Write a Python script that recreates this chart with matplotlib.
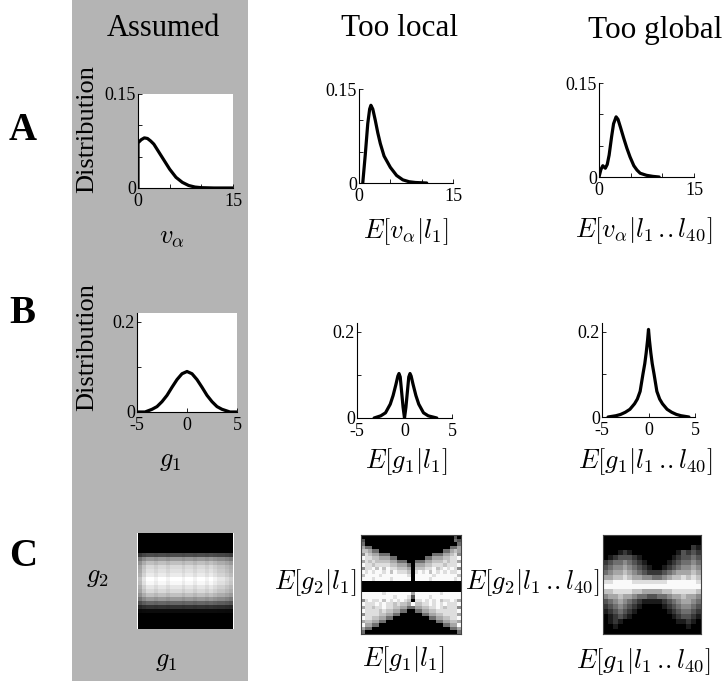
import numpy as np
import matplotlib
matplotlib.use('Agg')
import matplotlib.pyplot as plt
from matplotlib.patches import Rectangle

plt.rcParams['font.family'] = ['Liberation Serif', 'DejaVu Serif']
plt.rcParams['mathtext.fontset'] = 'cm'

# --- datos ---
# fila A: distribucion de v_alpha
va_supuesto_x = [0, 0, 0.5, 1, 1.5, 2, 2.5, 3, 4, 5, 6, 7, 8, 9, 10, 12, 15]
va_supuesto_y = [0, 0.072, 0.077, 0.080, 0.079, 0.075, 0.070, 0.062, 0.046, 0.030, 0.017,
                 0.009, 0.004, 0.0015, 0.0005, 0, 0]
va_local_x = [0.6, 1.0, 1.4, 1.7, 1.9, 2.2, 2.6, 3.0, 3.4, 4.0, 5.0, 6.0, 7.0, 8.0, 9.0, 10.8]
va_local_y = [0, 0.045, 0.095, 0.118, 0.124, 0.118, 0.100, 0.080, 0.063, 0.043, 0.025,
              0.012, 0.005, 0.002, 0.0008, 0]
va_global_x = [0, 0.3, 0.6, 1.0, 1.3, 1.6, 2.0, 2.3, 2.7, 3.0, 3.4, 3.9, 4.4, 4.9, 5.5,
               6.0, 6.5, 7.5, 8.5, 9.5]
va_global_y = [0, 0.012, 0.018, 0.014, 0.020, 0.035, 0.065, 0.085, 0.096, 0.092, 0.079,
               0.062, 0.046, 0.032, 0.018, 0.011, 0.006, 0.0027, 0.001, 0]

# fila B: distribucion de g1
g_supuesto_x = [-5, -4.2, -3.5, -3, -2.5, -2, -1.5, -1, -0.5, 0, 0.5, 1, 1.5, 2, 2.5, 3, 3.5, 4.3, 5]
g_supuesto_y = [0, 0, 0.006, 0.012, 0.023, 0.037, 0.055, 0.072, 0.085, 0.090, 0.085, 0.072,
                0.055, 0.037, 0.023, 0.012, 0.006, 0, 0]
g_local_x = [-3.2, -2.5, -2, -1.5, -1.2, -0.9, -0.7, -0.58, -0.45, -0.3, -0.15, 0,
             0.15, 0.3, 0.45, 0.58, 0.7, 0.9, 1.2, 1.5, 2, 2.5, 3.4]
g_local_y = [0, 0.005, 0.012, 0.032, 0.052, 0.078, 0.097, 0.103, 0.095, 0.060, 0.025, 0,
             0.025, 0.060, 0.095, 0.103, 0.097, 0.078, 0.052, 0.032, 0.012, 0.005, 0]
g_global_x = [-4.35, -3.5, -3, -2.5, -2, -1.5, -1.2, -0.9, -0.6, -0.4, -0.25, -0.1, 0,
              0.1, 0.25, 0.4, 0.6, 0.9, 1.2, 1.5, 2, 2.5, 3, 3.5, 4.35]
g_global_y = [0, 0.003, 0.006, 0.011, 0.018, 0.031, 0.042, 0.060, 0.100, 0.125, 0.150, 0.180,
              0.205, 0.180, 0.150, 0.125, 0.100, 0.060, 0.042, 0.031, 0.018, 0.011, 0.006,
              0.003, 0]

# fila C: histogramas conjuntos (g1, g2)
supuesto_filas = [0, 0, 0, 0, 0, 0.3, 0.6, 0.75, 0.85, 0.88, 0.92, 1.0, 0.97, 0.9, 0.85,
                  0.75, 0.6, 0.4, 0.2, 0.05, 0, 0, 0, 0]
supuesto_cols = [0.75, 0.9, 1, 1, 0.95, 1, 1, 0.95, 1, 1, 1, 0.95, 1, 1, 0.95, 1, 1, 0.95,
                 1, 0.95, 0.9, 0.9, 0.85, 0.8]

# niveles 0-9, mitad izquierda y derecha de cada fila
local_izq = ["00000000000000", "30000000000000", "40000000000000", "64400000000000",
             "77644000000000", "58766444000000", "98877666440000", "68787777664440",
             "98878888776664", "58897979887776", "98989989798887", "79999899999998",
             "99989999899999", "00000000000000", "00000000000000", "00000000000000",
             "99999989999999", "99999999989998", "58988979898987", "98889898878776",
             "68878898877664", "98888787766440", "58888776644000", "98877664400000",
             "67766440000000", "96644000000000", "64400000000000", "40000000000000"]
local_der = ["00000000000030", "00000000000043", "00000000000004", "00000000000446",
             "00000000044676", "00000044466785", "00004466677889", "04446677787886",
             "06667788878889", "07778897898985", "08989798989889", "09999989999997",
             "09999899999989", "00000000000000", "00000000000000", "00000000000000",
             "69999999899999", "39999899999999", "08898989788986", "97788989898889",
             "46677889878885", "04466778888889", "00044667788886", "00000446677889",
             "00000004466776", "00000000044669", "00000000000446", "00000000000004"]

global_filas = ["00000000000000000000", "00000000000000000000", "00000000000000000021",
                "00012100000000013232", "01233321000000123343", "23445432100001234454",
                "34556543210012345565", "45667654322234566676", "66778766554456778787",
                "88999988888889999998", "99999999999999999999", "77888877666677888887",
                "56676654433445667665", "34565432111123456654", "23454321000012345543",
                "12343210000001234432", "01232100000000123321", "01210000000000011210",
                "00100000000000000100", "00000000000000000000"]

W, H = 726, 681
fig = plt.figure(figsize=(W / 100, H / 100), dpi=100)


def caja(l, t, r, b):
    return fig.add_axes([l / W, 1 - b / H, (r - l) / W, (b - t) / H])


def texto(x, y, s, **kw):
    fig.text(x / W, 1 - y / H, s, **kw)


# fondo gris de la columna "Assumed"
fig.add_artist(Rectangle((72 / W, 0), (248 - 72) / W, 1, transform=fig.transFigure,
                         facecolor='#b4b4b4', edgecolor='none', zorder=0))


def curva(ax, x, y, xlim, ylim, xt, xl, yt, yl, blanco=False):
    ax.plot(x, y, color='black', lw=2.3, solid_capstyle='round')
    ax.set_xlim(xlim)
    ax.set_ylim(ylim)
    ax.set_xticks(xt)
    ax.set_xticklabels(xl)
    ax.set_yticks(yt)
    ax.set_yticklabels(yl)
    ax.spines['top'].set_visible(False)
    ax.spines['right'].set_visible(False)
    for s in ['left', 'bottom']:
        ax.spines[s].set_linewidth(0.8)
    ax.tick_params(direction='in', length=3, width=0.6, labelsize=13)
    ax.tick_params(axis='x', pad=3.5)
    ax.tick_params(axis='y', pad=1.5)
    if blanco:
        ax.set_facecolor('white')
    else:
        ax.patch.set_alpha(0)


xa = [0, 5, 10, 15]
xal = ['0', '', '', '15']
ya = [0, 0.05, 0.1, 0.15]
yal = ['0', '', '', '0.15']
curva(caja(138, 94, 233, 188), va_supuesto_x, va_supuesto_y, (0, 15), (0, 0.15), xa, xal, ya, yal, True)
curva(caja(359, 89, 453, 183), va_local_x, va_local_y, (0, 15), (0, 0.15), xa, xal, ya, yal)
curva(caja(599, 83, 694, 177), va_global_x, va_global_y, (0, 15), (0, 0.15), xa, xal, ya, yal)

xb = [-5, 0, 5]
xbl = ['-5', '0', '5']
yb = [0, 0.1, 0.2]
ybl = ['0', '', '0.2']
curva(caja(137, 313, 237, 412), g_supuesto_x, g_supuesto_y, (-5, 5), (0, 0.22), xb, xbl, yb, ybl, True)
curva(caja(357, 323, 452, 418), g_local_x, g_local_y, (-5, 5), (0, 0.22), xb, xbl, yb, ybl)
curva(caja(602, 323, 695, 417), g_global_x, g_global_y, (-5, 5), (0, 0.22), xb, xbl, yb, ybl)

# imagenes de la fila C
img_sup = np.outer(supuesto_filas, supuesto_cols)
img_loc = np.array([[int(c) for c in a + b] for a, b in zip(local_izq, local_der)])
img_glo = np.array([[int(c) for c in f] for f in global_filas])

ax = caja(137, 533, 234, 629)
ax.set_facecolor('white')
n = len(supuesto_cols)
ax.imshow(img_sup, cmap='gray', vmin=0, vmax=1, interpolation='nearest', aspect='auto',
          extent=(0, n, len(supuesto_filas), 0))
ax.set_xlim(-0.35, n + 0.35)
ax.set_xticks([])
ax.set_yticks([])
for s in ax.spines.values():
    s.set_visible(False)

for (l, t, r, b), img in [((361, 535, 461, 634), img_loc), ((603, 535, 701, 634), img_glo)]:
    ax = caja(l, t, r, b)
    ax.imshow(img, cmap='gray', vmin=0, vmax=9.2, interpolation='nearest', aspect='auto')
    ax.set_xticks([])
    ax.set_yticks([])
    for s in ax.spines.values():
        s.set_linewidth(0.8)
        s.set_color('#444444')

# titulos de columna
texto(163, 28, 'Assumed', fontsize=22, ha='center', va='center')
texto(400, 28, 'Too local', fontsize=22.5, ha='center', va='center')
texto(655, 30, 'Too global', fontsize=22.5, ha='center', va='center')

# letras de panel
texto(9, 140, 'A', fontsize=28, fontweight='bold', ha='left', va='baseline')
texto(9, 323, 'B', fontsize=28, fontweight='bold', ha='left', va='baseline')
texto(9, 566, 'C', fontsize=28, fontweight='bold', ha='left', va='baseline')

# etiquetas de ejes
texto(87, 129, 'Distribution', fontsize=19, rotation=90, ha='center', va='center')
texto(87, 347, 'Distribution', fontsize=19, rotation=90, ha='center', va='center')

puntos = r'\,.\!.'
texto(172, 238, r'$v_\alpha$', fontsize=19, ha='center', va='center')
texto(406, 232, r'$E[v_\alpha|l_1]$', fontsize=19, ha='center', va='center')
texto(644, 231, r'$E[v_\alpha|l_1' + puntos + r'l_{40}]$', fontsize=19, ha='center', va='center')

texto(170, 462, r'$g_1$', fontsize=19, ha='center', va='center')
texto(406, 462, r'$E[g_1|l_1]$', fontsize=19, ha='center', va='center')
texto(645, 462, r'$E[g_1|l_1' + puntos + r'l_{40}]$', fontsize=19, ha='center', va='center')

texto(97, 578, r'$g_2$', fontsize=19, ha='center', va='center')
texto(166, 662, r'$g_1$', fontsize=19, ha='center', va='center')
texto(356, 583, r'$E[g_2|l_1]$', fontsize=19, ha='right', va='center')
texto(403, 660, r'$E[g_1|l_1]$', fontsize=19, ha='center', va='center')
texto(599, 583, r'$E[g_2|l_1' + puntos + r'l_{40}]$', fontsize=19, ha='right', va='center')
texto(643, 662, r'$E[g_1|l_1' + puntos + r'l_{40}]$', fontsize=19, ha='center', va='center')

plt.savefig('out.png', dpi=100)
